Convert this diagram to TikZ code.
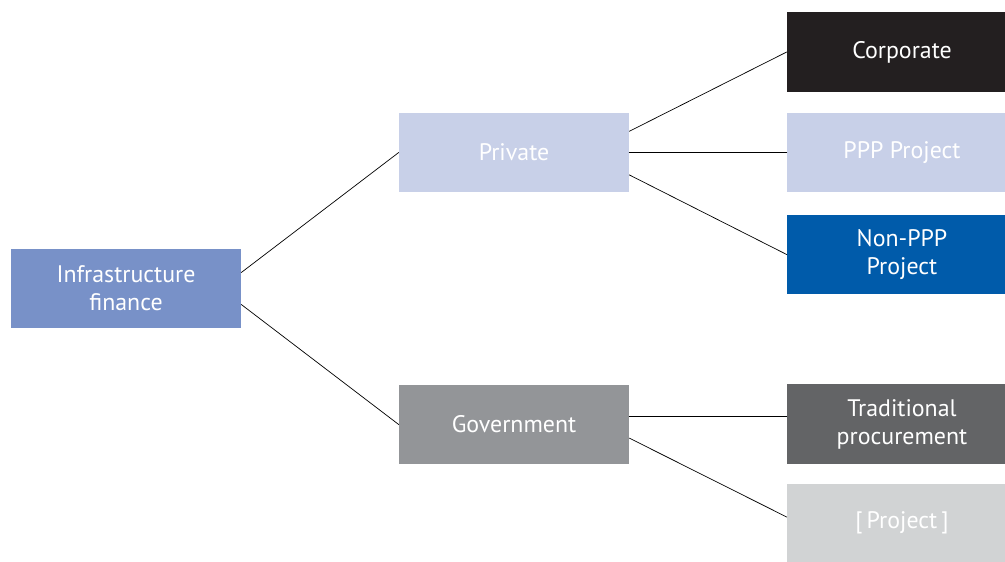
\documentclass[tikz,border=0pt]{standalone}
\usepackage{fontspec}
\setmainfont{PT Sans}
\usetikzlibrary{calc}
\definecolor{infrablue}{HTML}{7891C8}
\definecolor{paleblue}{HTML}{C8D0E8}
\definecolor{corpblack}{HTML}{231F20}
\definecolor{deepblue}{HTML}{005BAA}
\definecolor{govgrey}{HTML}{939598}
\definecolor{darkgrey}{HTML}{636466}
\definecolor{lightgrey}{HTML}{D1D3D4}

\begin{document}
\begin{tikzpicture}[x=0.025cm, y=-0.025cm, line cap=round, line join=round,
		box/.style={fill=#1, text=white, inner sep=0pt, align=center,
			minimum width=5.75cm, minimum height=1.975cm,
			font=\fontsize{17}{20}\selectfont},
		link/.style={black, line width=0.5pt}]
		
		\clip (0,0) rectangle (1005,561);
		
		% ===== Level 1 =====
		\node[box=infrablue] (infra) at (126,288.5) {Infrastructure\\finance};
		
		% ===== Level 2 =====
		\node[box=paleblue] (private) at (514,152.5) {Private};
		\node[box=govgrey] (gov) at (514,424.5) {Government};
		
		% ===== Level 3 (runs past the right edge) =====
		\node[box=corpblack] (corp) at (902,52) {Corporate};
		\node[box=paleblue] (ppp) at (902,152.5) {PPP Project};
		\node[box=deepblue] (nonppp) at (902,254.5) {Non-PPP\\Project};
		\node[box=darkgrey] (trad) at (902,424) {Traditional\\procurement};
		\node[box=lightgrey] (proj) at (902,523) {[\,Project\,]};
		
		% connectors
		\draw[link] ([yshift=0.4cm]infra.east) -- (private.west);
		\draw[link] ([yshift=-0.4cm]infra.east) -- (gov.west);
		\draw[link] ([yshift=0.53cm]private.east) -- (corp.west);
		\draw[link] (private.east) -- (ppp.west);
		\draw[link] ([yshift=-0.56cm]private.east) -- (nonppp.west);
		\draw[link] ([yshift=0.21cm]gov.east) coordinate (g1) -- (g1 -| trad.west);
		\draw[link] ([yshift=-0.34cm]gov.east) -- ([yshift=0.15cm]proj.west);
		
	\end{tikzpicture}
\end{document}
